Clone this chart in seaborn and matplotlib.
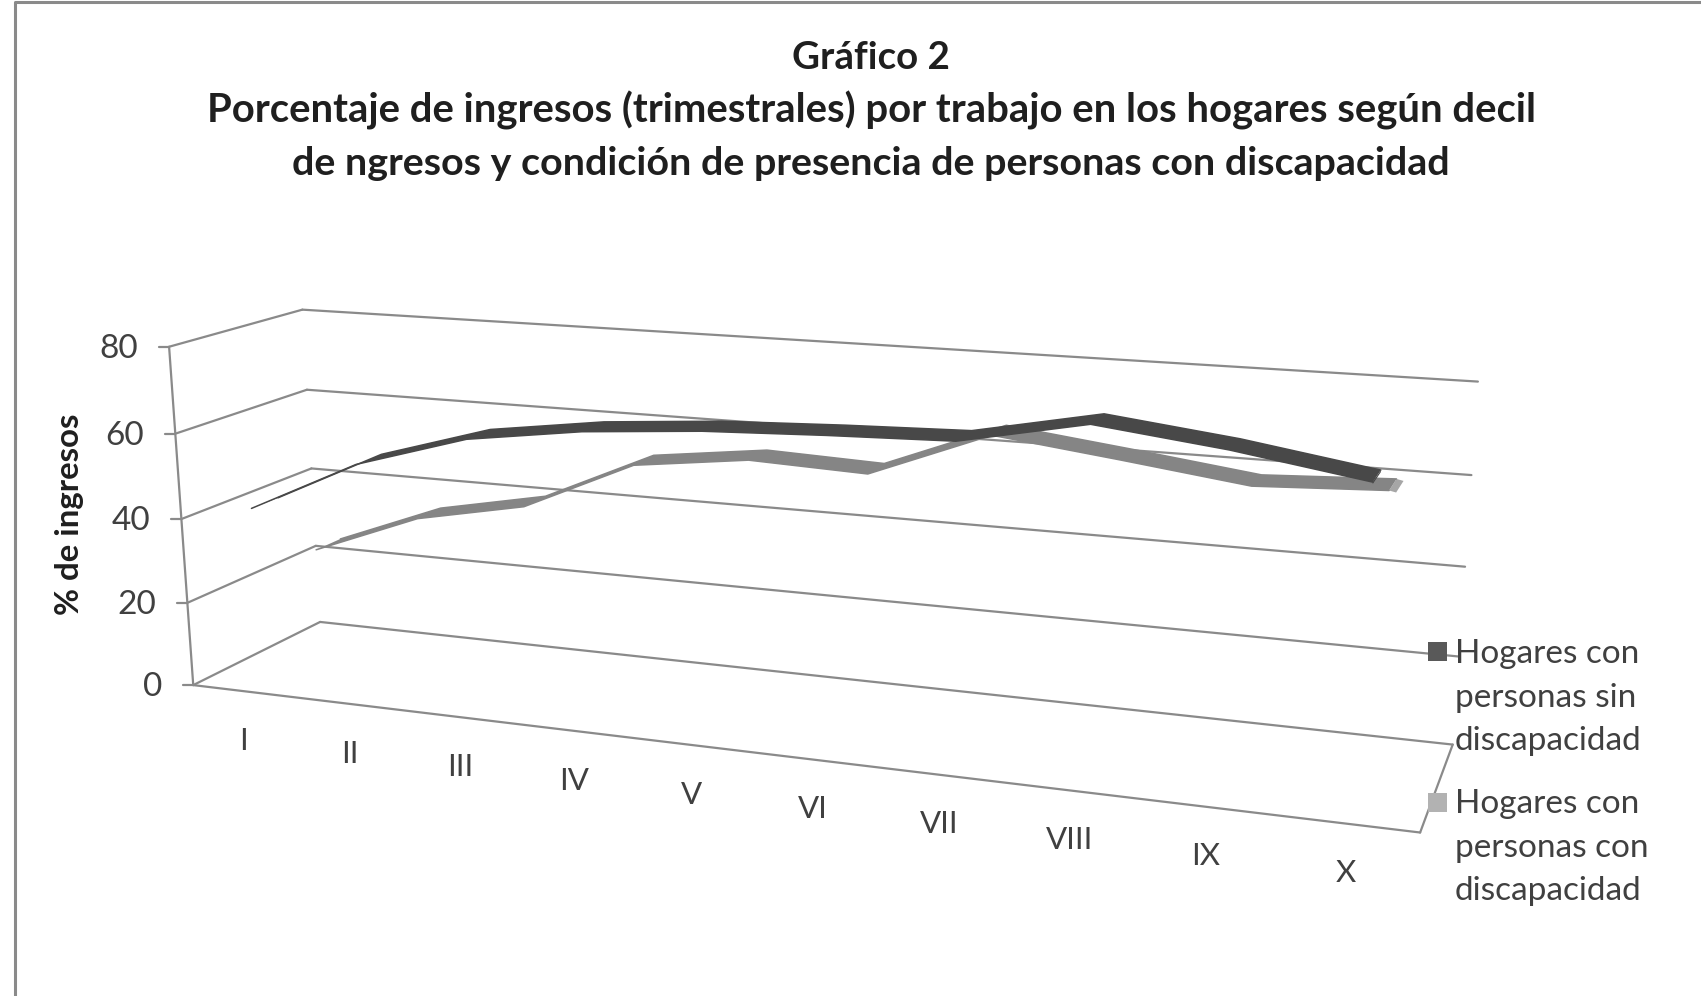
import numpy as np
import pandas as pd
import matplotlib
matplotlib.use("Agg")
import matplotlib.pyplot as plt
from matplotlib.transforms import Transform
from matplotlib.patches import Rectangle
import seaborn as sns

title_lines = ["Gráfico 2",
               "Porcentaje de ingresos (trimestrales) por trabajo en los hogares según decil",
               "de ngresos y condición de presencia de personas con discapacidad"]
y_title = "% de ingresos"
deciles = ["I", "II", "III", "IV", "V", "VI", "VII", "VIII", "IX", "X"]
sin_discapacidad = [42, 54.5, 62.3, 66, 68.1, 69.2, 70, 75.5, 72.3, 68]
con_discapacidad = [25.7, 35.8, 41, 53, 56.3, 55.3, 66, 62.7, 59.2, 60.5]
y_ticks = [0, 20, 40, 60, 80]
label_sin = "Hogares con\npersonas sin\ndiscapacidad"
label_con = "Hogares con\npersonas con\ndiscapacidad"

# Pixel positions of the pseudo-3D box corners: (t along x, value, depth) -> (px, py)
box_points = [
    (0, 80, 0, 170, 347), (0, 60, 0, 175, 433), (0, 40, 0, 180.5, 519),
    (0, 20, 0, 186, 603), (0, 0, 0, 195, 685),
    (0, 80, 1, 302, 310), (0, 60, 1, 307, 389), (0, 40, 1, 312, 469),
    (0, 20, 1, 316, 546), (0, 0, 1, 319.5, 622),
    (1, 80, 1, 1477, 382), (1, 60, 1, 1472, 475), (1, 40, 1, 1466, 567),
    (1, 20, 1, 1459, 655), (1, 0, 1, 1452, 745), (1, 0, 0, 1420, 833),
]


def fit_camera(points):
    rows, rhs = [], []
    for t, z, d, px, py in points:
        z = z / 80
        rows.append([t, z, d, 1, 0, 0, 0, 0, -px * t, -px * z, -px * d])
        rhs.append(px)
        rows.append([0, 0, 0, 0, t, z, d, 1, -py * t, -py * z, -py * d])
        rhs.append(py)
    sol = np.linalg.lstsq(np.array(rows, float), np.array(rhs, float), rcond=None)[0]
    return np.append(sol, 1.0).reshape(3, 4)


CAM = fit_camera(box_points)


def project(decile, value, depth):
    decile, value = np.asarray(decile, float), np.asarray(value, float)
    t = (decile - 0.5) / 10
    pts = np.stack([t, value / 80, np.full_like(t, depth), np.ones_like(t)], axis=-1)
    h = pts @ CAM.T
    return h[..., :2] / h[..., 2:3]


class Box(Transform):
    input_dims = 2
    output_dims = 2
    is_separable = False
    has_inverse = False

    def __init__(self, box_depth):
        super().__init__()
        self.box_depth = box_depth

    def transform_non_affine(self, values):
        v = np.asarray(values, float)
        return project(v[:, 0], v[:, 1], self.box_depth)


sns.set_theme(style="white")
plt.rcParams["font.family"] = ["Lato", "DejaVu Sans"]

fig = plt.figure(figsize=(17.01, 9.96), dpi=100, facecolor="white")
ax = fig.add_axes([0, 0, 1, 1])

GRID = "#8a8a8a"
GRID_LW = 1.6
x_pos = np.arange(1, 11)


def in_depth(depth):
    return Box(depth) + ax.transData


# walls and floor
for v in y_ticks:
    p0 = project(0.5, v, 0)
    p1 = project(0.5, v, 1)
    ax.plot([p0[0], p1[0]], [p0[1], p1[1]], color=GRID, lw=GRID_LW, zorder=1)
    ax.plot([0.5, 10.5], [v, v], color=GRID, lw=GRID_LW, zorder=1, transform=in_depth(1))
    ax.plot([p0[0] - 10, p0[0]], [p0[1], p0[1]], color=GRID, lw=GRID_LW, zorder=1)
    ax.text(p0[0] - 31, p0[1] + 2, str(v), ha="right", va="center", fontsize=24, color="#404040")
ax.plot([0.5, 0.5], [0, 80], color=GRID, lw=GRID_LW, zorder=1, transform=in_depth(0))
ax.plot([0.5, 10.5], [0, 0], color=GRID, lw=GRID_LW, zorder=1, transform=in_depth(0))
pa, pb = project(10.5, 0, 0), project(10.5, 0, 1)
ax.plot([pa[0], pb[0]], [pa[1], pb[1]], color=GRID, lw=GRID_LW, zorder=1)

# x tick labels
for i, lab in zip(x_pos, deciles):
    p = project(i, 0, 0)
    ax.text(p[0] - 2, p[1] + 49.5, lab, ha="center", va="center", fontsize=22.5, color="#404040")


def ribbon(values, depth, color, cap, cap_w, z):
    hw = 0.10
    df = pd.DataFrame({"decil": x_pos, "pct": values})
    front = project(df.decil, df.pct, depth - hw)
    back = project(df.decil, df.pct, depth + hw)
    ax.fill(np.r_[front[:, 0], back[::-1, 0]], np.r_[front[:, 1], back[::-1, 1]],
            color=color, lw=0, zorder=z)
    ax.fill([front[-1, 0], back[-1, 0], back[-1, 0] + cap_w, front[-1, 0] + cap_w],
            [front[-1, 1], back[-1, 1], back[-1, 1] + 2, front[-1, 1] + 2],
            color=cap, lw=0, zorder=z - 0.1)
    for d in (depth - hw, depth + hw):
        sns.lineplot(data=df, x="decil", y="pct", ax=ax, color=color, lw=1.1, sort=False,
                     errorbar=None, legend=False, transform=in_depth(d), zorder=z)


ribbon(con_discapacidad, 0.70, "#858585", "#a6a6a6", 7, 3)
ribbon(sin_discapacidad, 0.23, "#484848", "#484848", 0, 4)

# legend
ax.add_patch(Rectangle((1428, 642), 19, 19, color="#595959", lw=0, zorder=5))
ax.add_patch(Rectangle((1428, 793), 19, 19, color="#b2b2b2", lw=0, zorder=5))
for label, y0 in ((label_sin, 654), (label_con, 804)):
    for k, line in enumerate(label.split("\n")):
        ax.text(1455, y0 + k * 43.7, line, ha="left", va="center", fontsize=24,
                color="#404040", zorder=6)

# titles
for line, y, fs in zip(title_lines, (58, 110, 163), (27.7, 28.8, 28.4)):
    ax.text(871, y, line, ha="center", va="center", fontsize=fs, fontweight="bold", color="#1f1f1f")
ax.text(69, 514, y_title, rotation=90, ha="center", va="center", fontsize=23.8,
        fontweight="bold", color="#1f1f1f")

# outer frame
ax.plot([15, 15, 1701], [996, 1.5, 1.5], color="#8a8a8a", lw=2.2, zorder=1)

ax.set_xlim(0, 1701)
ax.set_ylim(996, 0)
ax.set_xlabel("")
ax.set_ylabel("")
ax.axis("off")

fig.savefig("out.png", dpi=100, facecolor="white")
